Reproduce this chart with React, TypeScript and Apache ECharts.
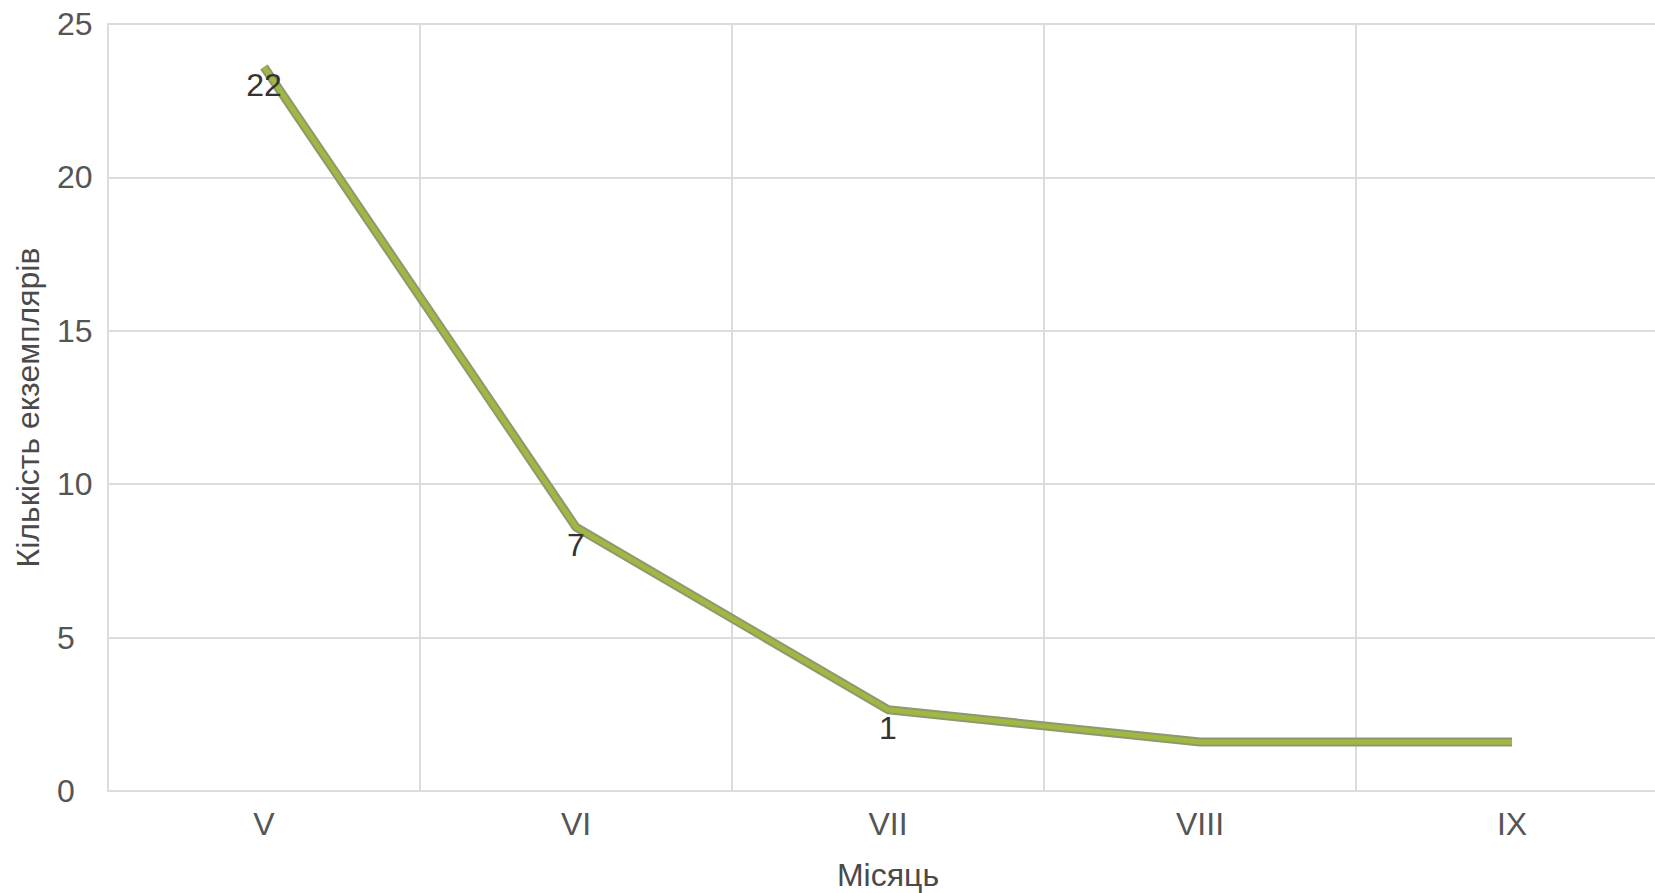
import React, { useEffect, useRef } from "react";
import * as echarts from "echarts";

const months = ["V", "VI", "VII", "VIII", "IX"];
const counts = [23.6, 8.6, 2.65, 1.6, 1.6];
const pointLabels = ["22", "7", "1", "", ""];
const yTicks = { min: 0, max: 25, interval: 5 };

export default function App() {
  const ref = useRef<HTMLDivElement>(null);
  useEffect(() => {
    if (!ref.current) return;
    const chart = echarts.init(ref.current, null, { renderer: "svg" });
    const font = "'Liberation Sans', Arial, sans-serif";
    chart.setOption({
      animation: false,
      backgroundColor: "#ffffff",
      textStyle: { fontFamily: font },
      grid: {
        left: 108,
        top: 24,
        width: 1560,
        height: 767,
        containLabel: false,
        outerBoundsMode: "none",
      },
      xAxis: {
        type: "category",
        data: months,
        boundaryGap: true,
        name: "Місяць",
        nameLocation: "middle",
        nameGap: 68,
        nameTextStyle: { fontSize: 32, color: "#4a4a4a", fontFamily: font },
        axisLine: { show: true, lineStyle: { color: "#dcdcdc", width: 2 } },
        axisTick: { show: false },
        axisLabel: { fontSize: 32, color: "#555555", margin: 17, fontFamily: font },
        splitLine: { show: true, lineStyle: { color: "#dcdcdc", width: 2 } },
      },
      yAxis: {
        type: "value",
        min: yTicks.min,
        max: yTicks.max,
        interval: yTicks.interval,
        name: "Кількість екземплярів",
        nameLocation: "middle",
        nameGap: 64,
        nameRotate: 90,
        nameTextStyle: { fontSize: 32, color: "#4a4a4a", fontFamily: font },
        axisLine: { show: true, lineStyle: { color: "#dcdcdc", width: 2 } },
        axisTick: { show: false },
        axisLabel: { fontSize: 32, color: "#555555", margin: 51, align: "left", fontFamily: font },
        splitLine: { show: true, lineStyle: { color: "#dcdcdc", width: 2 } },
      },
      series: [
        {
          type: "line",
          data: counts,
          symbol: "none",
          silent: true,
          z: 2,
          lineStyle: { color: "#8e9870", width: 9 },
        },
        {
          type: "line",
          data: counts,
          symbol: "circle",
          symbolSize: 0.1,
          z: 3,
          lineStyle: { color: "#a0b742", width: 5 },
          itemStyle: { color: "#a0b742" },
          label: {
            show: true,
            position: "bottom",
            distance: 2,
            fontSize: 32,
            color: "#333333",
            fontFamily: font,
            formatter: (p: any) => pointLabels[p.dataIndex],
          },
        },
      ],
    });
    return () => chart.dispose();
  }, []);
  return (
    <div
      ref={ref}
      style={{ position: "fixed", left: 0, top: 0, width: 1655, height: 893 }}
    />
  );
}
